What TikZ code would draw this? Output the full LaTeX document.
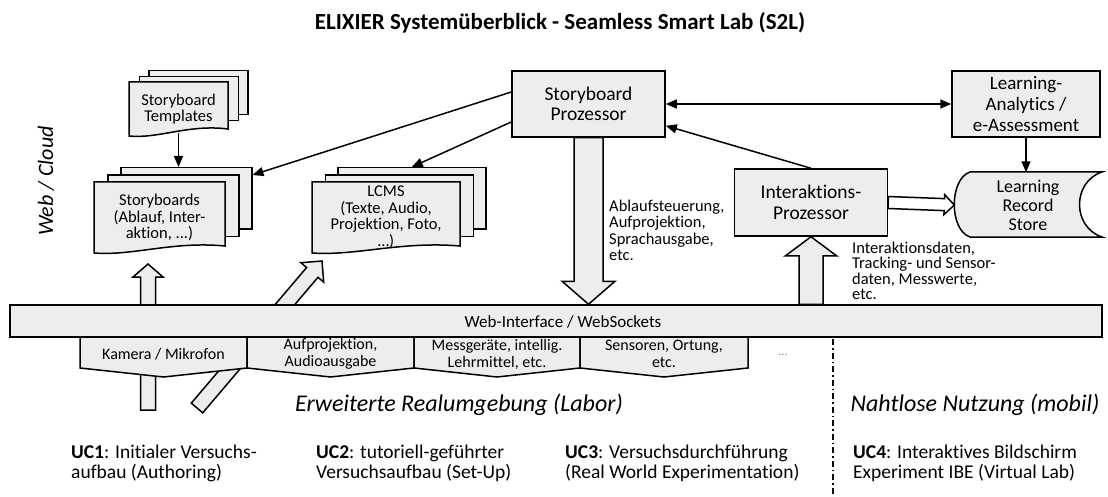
\documentclass[tikz,border=0pt]{standalone}
\usepackage{fontspec}
\setmainfont{Carlito}[Ligatures=NoCommon]
\usetikzlibrary{calc,arrows.meta}

\definecolor{boxgray}{gray}{0.93}

\newcommand{\fsize}[2]{\fontsize{#1}{#2}\selectfont}

\newcommand{\docstack}[8]{%
  \foreach \k in {2,1}
    \node[docback, minimum width=#4, minimum height=#5-10, anchor=north west]
      (#1-\k) at ({#2+\k*#6},{#3-\k*#7}) {};
  \draw[docfront] (#2,#3) -- ({#2+#4},#3) -- ({#2+#4},{#3+#5-7})
    .. controls ({#2+0.6*#4},{#3+#5-12}) and ({#2+0.3*#4},{#3+#5+3}) .. (#2,{#3+#5}) -- cycle;
  \node[doctext, minimum width=#4, minimum height=#5] (#1) at ({#2+0.5*#4},{#3+0.5*#5}) {#8};
}

\newcommand{\bigarrow}[6][blockarrow]{%
  \coordinate (ba-s) at (#2);
  \coordinate (ba-t) at (#3);
  \coordinate (ba-h) at ($(ba-t)!#6pt!(ba-s)$);
  \draw[#1] ($(ba-s)!#4pt!90:(ba-t)$) -- ($(ba-h)!#4pt!-90:(ba-s)$)
    -- ($(ba-h)!#5pt!-90:(ba-s)$) -- (ba-t) -- ($(ba-h)!#5pt!90:(ba-s)$)
    -- ($(ba-h)!#4pt!90:(ba-s)$) -- ($(ba-s)!#4pt!-90:(ba-t)$) -- cycle;
}

\begin{document}
\begin{tikzpicture}[x=1pt,y=-1pt,
  box/.style={draw, line width=1.5pt, fill=boxgray, minimum width=153, minimum height=66,
    align=center, inner sep=1pt, font=\fsize{19.5}{20.5}},
  docback/.style={draw, line width=1.5pt, fill=boxgray, inner sep=0pt},
  docfront/.style={draw, line width=1.5pt, fill=boxgray},
  doctext/.style={align=center, inner sep=0pt, font=\fsize{16.5}{16.5}},
  arr/.style={line width=1.5pt, -{Triangle[length=11pt,width=9pt]}},
  dblarr/.style={line width=1.5pt, {Triangle[length=11pt,width=9pt]}-{Triangle[length=11pt,width=9pt]}},
  blockarrow/.style={draw, line width=1.5pt, fill=boxgray, line join=miter},
  hollowarrow/.style={draw, line width=1.5pt, fill=white, line join=miter},
  note/.style={align=left, inner sep=0pt, font=\fsize{16.5}{16.2}},
  zone/.style={font=\itshape\fsize{24}{28}},
  uc/.style={anchor=west, align=left, inner sep=0pt, font=\fsize{19.5}{20}},
  bar/.style={draw, line width=1.5pt, fill=boxgray, minimum width=1092, minimum height=32},
  divider/.style={line width=1.5pt, dash pattern=on 6pt off 3pt on 1.5pt off 3pt}]

\useasboundingbox (0,0) rectangle (1108,497);

\node[font=\bfseries\fsize{23}{26}] (title) at (560,23) {ELIXIER Systemüberblick - Seamless Smart Lab (S2L)};
\node[rotate=90, font=\itshape\fsize{22}{26}] (cloud) at (46,181) {Web / Cloud};

\docstack{tmpl}{129}{82}{99}{54}{9.5}{6}{Storyboard\\Templates}
\docstack{sb}{94}{182}{131}{71}{13}{7.5}{Storyboards\\(Ablauf, Inter-\\aktion, ...)}
\docstack{lcms}{312}{182}{148}{71}{12.5}{7.5}{LCMS\\(Texte, Audio,\\Projektion, Foto,\\\dots)}

\node[box] (sp) at (588.5,104) {Storyboard\\Prozessor};
\node[box, minimum width=148, font=\fsize{19}{21}] (la) at (1026,104) {Learning-\\Analytics /\\e-Assessment};
\node[box, minimum height=67] (ip) at (811,202.5) {Interaktions-\\Prozessor};

\draw[docfront] (970,172) -- (1102,172) .. controls (1072,182) and (1072,227) .. (1102,237)
  -- (970,237) .. controls (949,230) and (949,179) .. cycle;
\node[align=center, inner sep=0pt, minimum width=147, minimum height=65, font=\fsize{18}{19}] (lrs) at (1028,205) {Learning\\Record\\Store};

\draw[arr] ([yshift=3pt]tmpl.south) -- (tmpl.south |- sb-2.north);
\draw[arr] ([yshift=12pt]sp.west) -- ([yshift=-8pt]sb-2.north east);
\draw[arr] ([yshift=-18pt]sp.west) -- (lcms-2.north);
\draw[dblarr] (sp.east) -- (la.west);
\draw[arr] (ip.north) -- ([yshift=12pt]sp.south east);
\draw[arr] (la.south) -- (la.south |- lrs.north);

\coordinate (camtail) at (148,410);
\coordinate (camtip) at (148,264);
\coordinate (projtail) at (197,408);
\coordinate (projtip) at (322,261);

\node[bar] (web) at (556,321) {};

\bigarrow{camtail}{camtip}{7.5}{15}{13}
\bigarrow{projtail}{projtip}{7.5}{15}{15}
\bigarrow{sp.south}{sp.south |- web.north}{14.5}{26.5}{23}
\bigarrow{ip.south |- web.north}{ip.south}{12}{25.5}{19}
\bigarrow[hollowarrow]{ip.east}{lrs.west}{6}{10}{10}

\node[bar] (web) at (556,321) {};
\node[font=\fsize{17}{19}] (webtext) at (563,322) {Web-Interface / WebSockets};

\foreach \xa/\xb/\nm/\txt in {80/247/cam/{Kamera / Mikrofon},
    247/414/proj/{Aufprojektion,\\Audioausgabe},
    414/580/mess/{Messgeräte, intellig.\\Lehrmittel, etc.},
    580/748/sens/{Sensoren, Ortung,\\etc.}} {
  \draw[blockarrow] (\xa,337) -- (\xb,337) -- (\xb,368) -- ({(\xa+\xb)/2},377) -- (\xa,368) -- cycle;
  \node[align=center, inner sep=0pt, font=\fsize{16}{17}] (\nm) at ({(\xa+\xb)/2},354) {\txt};
}
\node[text=gray, font=\fsize{12}{14}] (more) at (783,355) {...};

\draw[divider] (833,339) -- (833,497);

\node[zone] (labor) at (459,405) {Erweiterte Realumgebung (Labor)};
\node[zone] (mobil) at (975,405) {Nahtlose Nutzung (mobil)};

\node[note, anchor=north west] (steuer) at (609,200) {Ablaufsteuerung,\\Aufprojektion,\\Sprachausgabe,\\etc.};
\node[note, anchor=north west, font=\fsize{16.5}{15.3}] (daten) at (852,242) {Interaktionsdaten,\\Tracking- und Sensor-\\daten, Messwerte,\\etc.};

\node[uc] (uc1) at (71,463) {\textbf{UC1}: Initialer Versuchs-\\aufbau (Authoring)};
\node[uc] (uc2) at (316,463) {\textbf{UC2}: tutoriell-geführter\\Versuchsaufbau (Set-Up)};
\node[uc] (uc3) at (565,463) {\textbf{UC3}: Versuchsdurchführung\\(Real World Experimentation)};
\node[uc] (uc4) at (853,463) {\textbf{UC4}: Interaktives Bildschirm\\Experiment IBE (Virtual Lab)};

\end{tikzpicture}
\end{document}
